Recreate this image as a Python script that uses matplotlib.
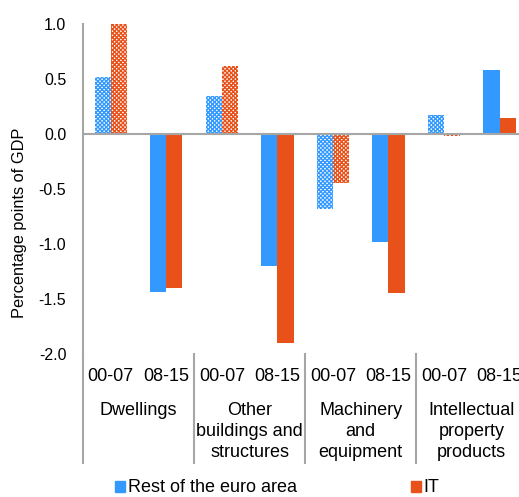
import matplotlib
matplotlib.use("Agg")
import matplotlib.pyplot as plt
from matplotlib.patches import Patch
import numpy as np

plt.rcParams['font.family'] = ['Liberation Sans', 'DejaVu Sans']
plt.rcParams['hatch.linewidth'] = 1.0

groups = ['Dwellings', 'Other\nbuildings and\nstructures', 'Machinery\nand\nequipment',
          'Intellectual\nproperty\nproducts']
periods = ['00-07', '08-15']
rest_ea = [0.52, -1.44, 0.34, -1.20, -0.68, -0.98, 0.17, 0.58]
italy = [1.00, -1.40, 0.62, -1.90, -0.45, -1.45, -0.02, 0.14]

blue = '#3399ff'
orange = '#e8521a'
grey = '#a6a6a6'

fig = plt.figure(figsize=(5.19, 4.97), dpi=100)
ax = fig.add_axes([0.16, 0.288, 0.856, 0.664])

x = np.arange(len(rest_ea))
w = 0.29
for i in x:
    hatched = periods[i % 2] == '00-07'
    for off, vals, col in ((-w / 2, rest_ea, blue), (w / 2, italy, orange)):
        if hatched:
            ax.bar(i + off, vals[i], w, facecolor='white', edgecolor=col,
                   hatch='x' * 8, linewidth=0)
        else:
            ax.bar(i + off, vals[i], w, color=col, linewidth=0)

ax.axhline(0, color=grey, lw=1.5, zorder=3)
ax.set_xlim(-0.5, 7.5)
ax.set_ylim(-2.0, 1.0)
ax.set_yticks(np.arange(-2.0, 1.01, 0.5))
ax.set_yticklabels([f'{v:.1f}' for v in np.arange(-2.0, 1.01, 0.5)])
ax.tick_params(axis='y', length=0, pad=12, labelsize=11.5)
ax.set_xticks([])
for s in ['top', 'right', 'bottom']:
    ax.spines[s].set_visible(False)
ax.spines['left'].set_color(grey)
ax.spines['left'].set_linewidth(1.5)
ax.spines['left'].set_bounds(-2.0, 1.0)
ax.set_ylabel('Percentage points of GDP', fontsize=11.8, va='center')
ax.yaxis.set_label_coords(-0.143, 0.397)

trans = ax.get_xaxis_transform()
for g in range(len(groups) + 1):
    ax.plot([g * 2 - 0.5, g * 2 - 0.5], [0, -0.33], color=grey, lw=1.5,
            transform=trans, clip_on=False)
for i in x:
    ax.text(i, -0.07, periods[i % 2], transform=trans, ha='center', va='center',
            fontsize=13)
for g, name in enumerate(groups):
    ax.text(g * 2 + 0.5, -0.145, name, transform=trans, ha='center', va='top',
            fontsize=13, linespacing=1.3)

handles = [Patch(color=blue, label='Rest of the euro area'),
           Patch(color=orange, label='IT')]
fig.legend(handles=handles, loc='center', bbox_to_anchor=(0.534, 1 - 488 / 497),
           ncol=2, frameon=False, fontsize=13, handlelength=0.55,
           handleheight=0.55, handletextpad=0.15, columnspacing=6.3,
           borderaxespad=0)

fig.savefig('out.png', dpi=100)
